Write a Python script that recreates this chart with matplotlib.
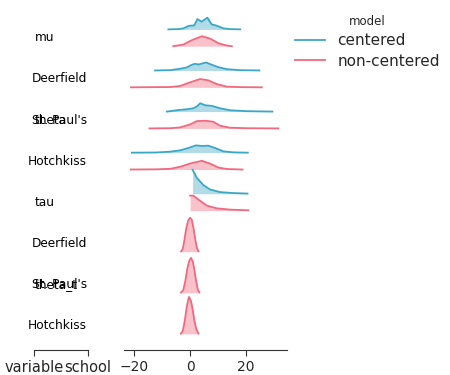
import matplotlib
matplotlib.use("Agg")
import matplotlib.pyplot as plt
import numpy as np
from matplotlib.lines import Line2D

# ---- data (x value, ridge height) ----
row_labels = ["mu", "Deerfield", "St. Paul's", "Hotchkiss", "tau", "Deerfield", "St. Paul's", "Hotchkiss"]
var_labels = {"mu": 7, "theta": 5, "tau": 3, "theta_t": 1}
models = ["centered", "non-centered"]

# centered model ridges (rows 7..3)
c_mu_x = [-7.75, -4.0, -2.4, -0.5, 1.5, 2.6, 4.1, 6.2, 7.7, 9.5, 11.9, 14.0, 17.9]
c_mu_h = [0, 0.3, 1.0, 3.5, 4.0, 10.3, 7.7, 11.7, 5.0, 3.7, 1.0, 0.3, 0]
c_dee_x = [-12.5, -7.1, -3.6, -1.2, 0.6, 1.8, 3.0, 5.7, 7.75, 10.1, 13.1, 17.9, 24.75]
c_dee_h = [0, 0.3, 1.7, 3.0, 5.7, 6.7, 6.0, 8.0, 5.7, 3.3, 1.3, 0.3, 0]
c_stp_x = [-8.3, -3.6, -1.2, 1.2, 2.6, 3.6, 5.4, 7.75, 10.7, 14.3, 20.25, 29.4]
c_stp_h = [0, 1.7, 2.3, 3.3, 5.5, 8.3, 6.3, 5.7, 3.3, 1.3, 0.4, 0]
c_hot_x = [-20.8, -12.0, -7.1, -3.6, -0.6, 2.1, 4.2, 6.5, 8.9, 11.9, 15.5, 20.6]
c_hot_h = [0, 0.2, 1.0, 2.3, 4.7, 7.3, 6.7, 7.0, 4.7, 1.3, 0.3, 0]
c_tau_x = [0.9, 2.4, 4.75, 7.1, 10.7, 15.5, 20.5]
c_tau_h = [24, 16, 8.7, 4.3, 1.7, 0.7, 0.2]

# non-centered model ridges (rows 7..0)
n_mu_x = [-6.0, -2.4, 0.6, 4.2, 7.1, 10.1, 13.1, 14.9]
n_mu_h = [0, 1.7, 6.0, 10.0, 7.7, 3.0, 0.7, 0]
n_dee_x = [-21.1, -7.1, -3.6, 0.0, 3.6, 6.5, 9.5, 13.1, 17.9, 25.6]
n_dee_h = [0, 0.3, 1.3, 5.0, 8.3, 7.0, 3.3, 0.7, 0.2, 0]
n_stp_x = [-14.5, -7.1, -3.6, 0.0, 2.4, 5.4, 8.3, 10.7, 14.3, 20.25, 31.5]
n_stp_h = [0, 0.2, 1.0, 4.0, 7.3, 7.7, 6.7, 2.7, 0.7, 0.2, 0]
n_hot_x = [-21.2, -12.0, -7.1, -3.6, 0.0, 4.2, 7.1, 10.1, 13.1, 18.7]
n_hot_h = [0, 0.2, 0.7, 2.7, 6.0, 8.7, 6.0, 2.0, 0.5, 0]
n_tau_x = [0.0, 1.2, 3.0, 6.0, 9.5, 14.3, 20.8]
n_tau_h = [15, 15, 11, 5, 2.3, 1.0, 0.3]
n_tdee_x = [-3.2, -2.6, -2.0, -1.4, -0.7, 0.0, 0.6, 1.2, 1.8, 2.4, 3.0]
n_tdee_h = [0.3, 3, 12, 23, 31, 34, 32, 24, 13, 4, 0.5]
n_tstp_x = [-3.2, -2.4, -1.7, -1.0, -0.3, 0.35, 1.0, 1.6, 2.2, 2.8, 3.3]
n_tstp_h = [0.3, 3, 12, 24, 32, 35, 31, 22, 11, 3, 0.5]
n_thot_x = [-3.3, -2.6, -1.9, -1.2, -0.6, -0.35, 0.3, 0.9, 1.5, 2.2, 3.0]
n_thot_h = [0.3, 3, 13, 27, 35, 37, 33, 25, 14, 5, 0.5]

x_ticks = [-20, 0, 20]

centered = [(7, c_mu_x, c_mu_h), (6, c_dee_x, c_dee_h), (5, c_stp_x, c_stp_h),
            (4, c_hot_x, c_hot_h), (3, c_tau_x, c_tau_h)]
noncentered = [(7, n_mu_x, n_mu_h), (6, n_dee_x, n_dee_h), (5, n_stp_x, n_stp_h),
               (4, n_hot_x, n_hot_h), (3, n_tau_x, n_tau_h), (2, n_tdee_x, n_tdee_h),
               (1, n_tstp_x, n_tstp_h), (0, n_thot_x, n_thot_h)]

# ---- styling ----
blue = "#3aa7c4"
pink = "#f2687e"
text_c = "#262626"
scale = 1 / 41.1      # ridge height units -> row units
off = 0.205           # vertical offset of each model within a row

W, H = 450, 375
fig = plt.figure(figsize=(4.5, 3.75), dpi=100)
bottom = (H - 350) / H
top = (H - 5) / H
ylim = ((325.5 - 350) / 41.1, (325.5 - 5) / 41.1)

ax = fig.add_axes([124 / W, bottom, (286.7 - 124) / W, top - bottom])
lab = fig.add_axes([34 / W, bottom, 54 / W, top - bottom])

for row, xs, hs in centered:
    base = row + off
    xs = np.array(xs); hs = np.array(hs) * scale
    ax.fill_between(xs, base, base + hs, color=blue, alpha=0.4, lw=0)
    ax.plot(xs, base + hs, color=blue, lw=1.3)
for row, xs, hs in noncentered:
    base = row - off
    xs = np.array(xs); hs = np.array(hs) * scale
    ax.fill_between(xs, base, base + hs, color=pink, alpha=0.4, lw=0)
    ax.plot(xs, base + hs, color=pink, lw=1.3)

ax.set_xlim(-23.6, 34.5)
ax.set_ylim(*ylim)
ax.set_xticks(x_ticks)
ax.set_xticklabels([f"{t}".replace("-", "\u2212") for t in x_ticks], fontsize=10, color=text_c)
ax.set_yticks([])
for s in ["top", "right", "left"]:
    ax.spines[s].set_visible(False)
ax.spines["bottom"].set_color("#333333")
ax.tick_params(axis="x", length=4, color="#333333")

# label column axes
lab.set_xlim(0, 1)
lab.set_ylim(*ylim)
lab.set_yticks([])
for s in ["top", "right", "left"]:
    lab.spines[s].set_visible(False)
lab.spines["bottom"].set_color("#333333")
lab.set_xticks([0, 1])
lab.set_xticklabels(["variable", "school"], fontsize=10.5, color=text_c)
lab.tick_params(axis="x", length=4, color="#333333")

school_x = (87 - 34) / 54
var_x = (35 - 34) / 54
for i, name in enumerate(row_labels):
    row = 7 - i
    if name in ("mu", "tau"):
        lab.text(var_x, row, name, ha="left", va="center", fontsize=8.7, color="black")
    else:
        lab.text(school_x, row, name, ha="right", va="center", fontsize=8.7, color="black")
for name, row in var_labels.items():
    if name in ("theta", "theta_t"):
        lab.text(var_x, row, name, ha="left", va="center", fontsize=8.7, color="black")

handles = [Line2D([0], [0], color=blue, lw=1.3), Line2D([0], [0], color=pink, lw=1.3)]
leg = fig.legend(handles, models, title="model", loc="upper left",
                 bbox_to_anchor=(281 / W, 1 - 1 / H), frameon=False,
                 fontsize=11, title_fontsize=8.5, labelspacing=0.36)
for t in leg.get_texts():
    t.set_color(text_c)
leg.get_title().set_color(text_c)

fig.savefig("out.png", dpi=100)
